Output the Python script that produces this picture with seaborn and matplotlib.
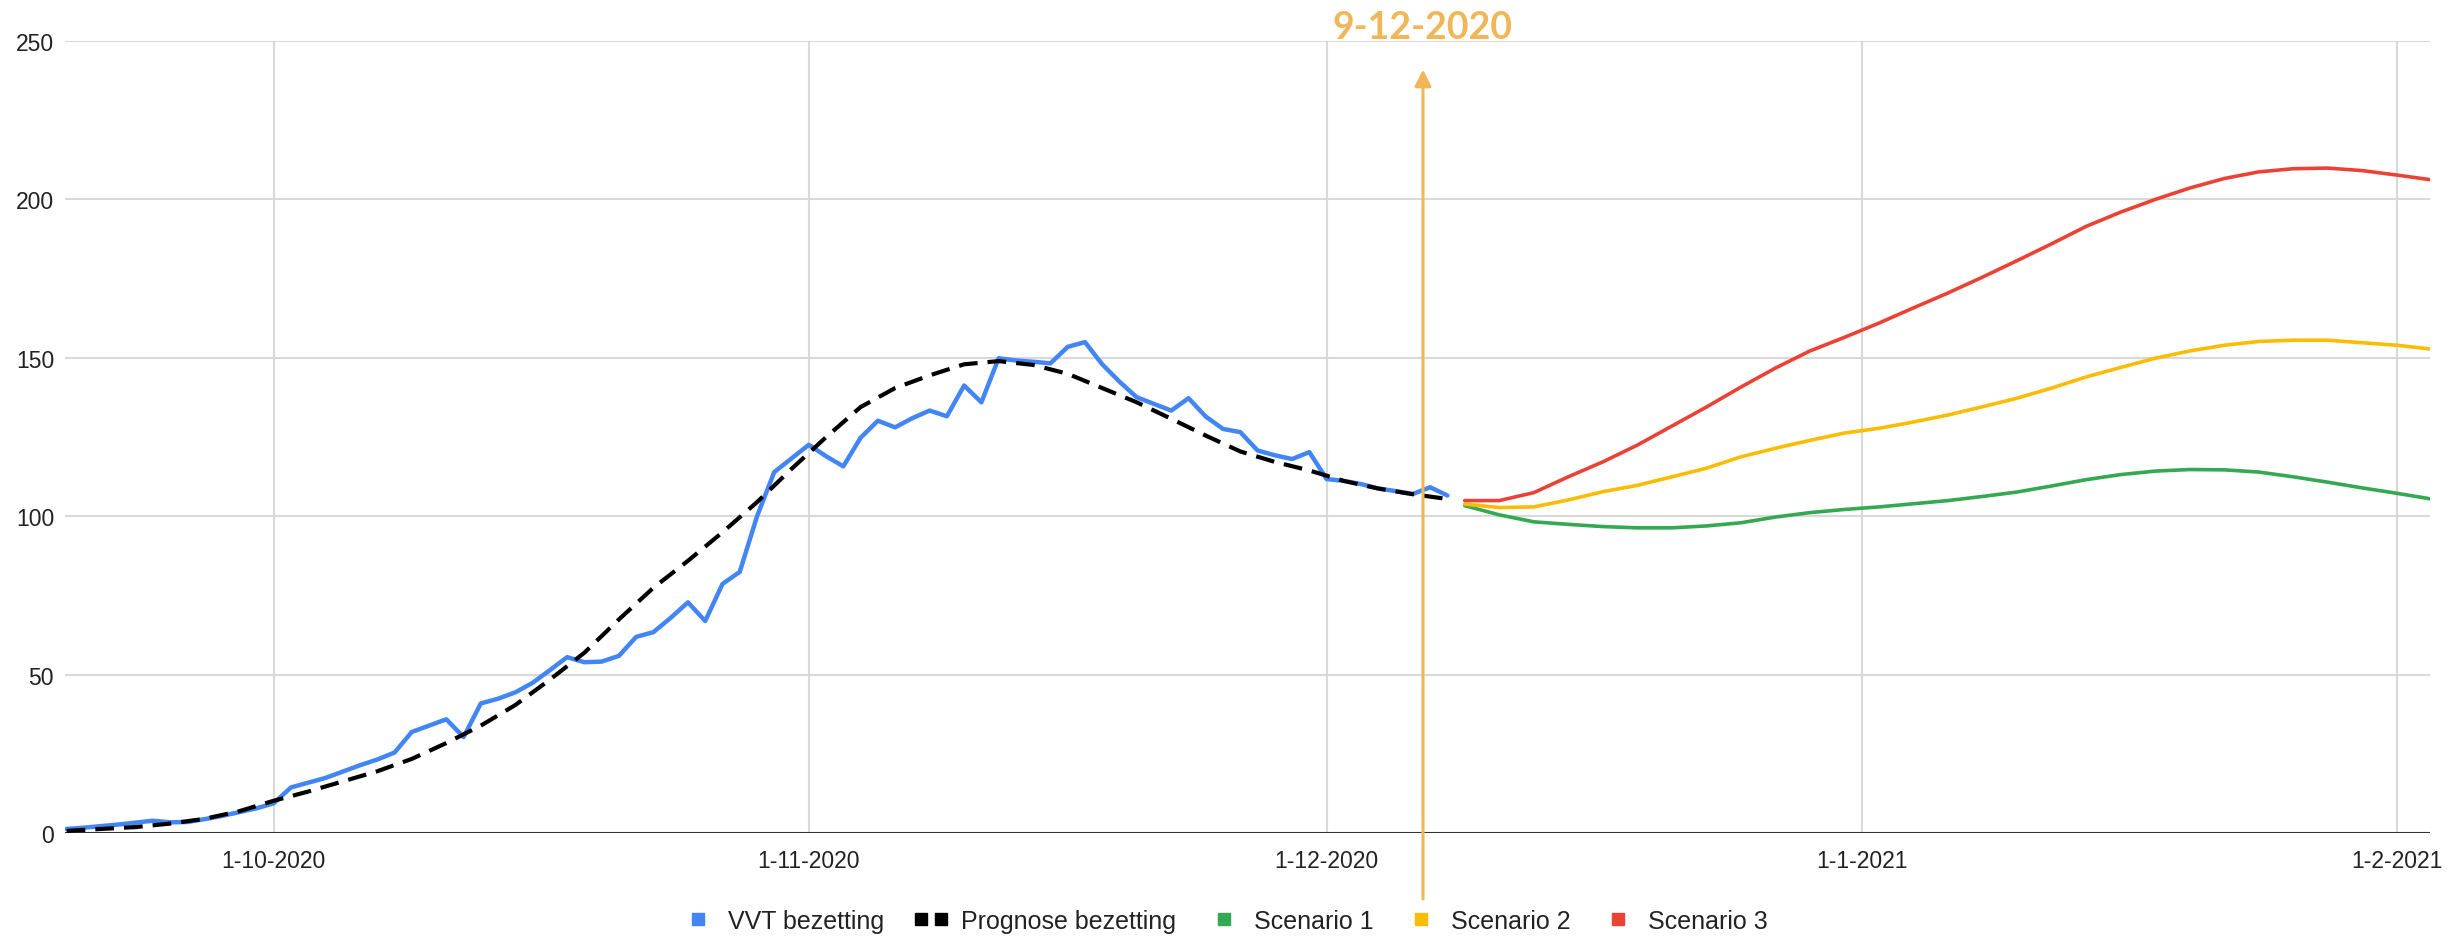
"""
VVT bezetting vs prognose, with three scenarios from 9-12-2020
"""
import pandas as pd
import numpy as np
import matplotlib; matplotlib.use("Agg")
import matplotlib.pyplot as plt
from matplotlib.lines import Line2D
from matplotlib.legend_handler import HandlerTuple
import seaborn as sns

# ---- data ----
VVT_START = "2020-09-19"   # daily values
VVT = [1.4, 1.8, 2.3, 2.8, 3.4, 4.0, 3.5, 3.6, 4.5, 5.5, 6.7, 7.9,
       9.5, 14.5, 16.0, 17.5, 19.5, 21.5, 23.3, 25.5, 32.0, 34.0, 36.0, 30.4,
       41.0, 42.5, 44.5, 47.5, 51.5, 55.6, 54.0, 54.2, 56.0, 62.0, 63.5, 68.0,
       72.9, 67.0, 78.7, 82.5, 100.0, 114.0, 118.3, 122.6, 119.0, 115.8, 124.8, 130.2,
       128.1, 131.0, 133.4, 131.6, 141.3, 136.0, 149.9, 149.2, 148.8, 148.3, 153.5, 155.0,
       148.0, 142.5, 137.6, 135.5, 133.4, 137.3, 131.5, 127.6, 126.6, 120.8, 119.3, 118.1,
       120.3, 111.8, 111.2, 110.2, 108.8, 108.0, 107.1, 109.2, 106.6]

PROG_START = "2020-09-19"  # every 2 days
PROGNOSE = [0.8, 1.4, 2.0, 3.1, 4.6, 7.0, 10.3, 13.2, 16.4, 19.6, 23.5, 28.5,
            34.0, 40.5, 48.5, 57.0, 67.5, 77.5, 86.0, 95.0, 104.5, 115.0, 125.0, 134.5,
            140.5, 144.5, 148.0, 149.0, 147.8, 145.0, 140.5, 136.0, 130.8, 125.5, 120.5, 117.2,
            114.5, 111.2, 108.8, 107.0, 105.5]

SCEN_START = "2020-12-09"  # every 2 days
SCENARIO_1 = [103.4, 100.5, 98.3, 97.5, 96.8, 96.4, 96.4, 97.0, 98.0, 99.8, 101.2, 102.2,
              103.0, 104.0, 105.0, 106.3, 107.7, 109.6, 111.6, 113.2, 114.3, 114.8, 114.7, 114.0,
              112.5, 110.8, 109.0, 107.3, 105.5]
SCENARIO_2 = [103.9, 102.8, 103.0, 105.2, 107.8, 109.8, 112.5, 115.2, 118.8, 121.5, 124.0, 126.3,
              127.8, 129.8, 132.0, 134.6, 137.3, 140.5, 144.0, 147.0, 149.9, 152.2, 154.0, 155.2,
              155.6, 155.6, 154.8, 154.0, 152.8]
SCENARIO_3 = [105.0, 105.0, 107.5, 112.5, 117.2, 122.5, 128.5, 134.5, 140.8, 146.8, 152.2, 156.5,
              161.0, 165.8, 170.5, 175.5, 180.7, 186.0, 191.5, 196.0, 200.0, 203.6, 206.6, 208.7,
              209.7, 209.9, 209.1, 207.7, 206.2]

MONTH_TICKS = ["2020-10-01", "2020-11-01", "2020-12-01", "2021-01-01", "2021-02-01"]
MONTH_LABELS = ["1-10-2020", "1-11-2020", "1-12-2020", "1-1-2021", "1-2-2021"]
MARKER_DATE = "2020-12-06 14:00"
MARKER_LABEL = "9-12-2020"

C_BLUE, C_BLACK = "#4285F4", "#000000"
C_GREEN, C_YELLOW, C_RED = "#34A853", "#FBBC04", "#EA4335"
C_ORANGE = "#F1B657"

sns.set_style("white")
plt.rcParams["font.family"] = ["Liberation Sans", "DejaVu Sans"]

vvt_x = pd.date_range(VVT_START, periods=len(VVT), freq="D")
prog_x = pd.date_range(PROG_START, periods=len(PROGNOSE), freq="2D")
scen_x = pd.date_range(SCEN_START, periods=len(SCENARIO_1), freq="2D")

fig = plt.figure(figsize=(24.48, 9.37), dpi=100)
ax = fig.add_axes([0.0266, 0.1095, 0.9660, 0.8457])

rnd = dict(solid_joinstyle="round", solid_capstyle="round")
sns.lineplot(x=vvt_x, y=VVT, ax=ax, color=C_BLUE, lw=3.2, zorder=3, **rnd)
sns.lineplot(x=prog_x, y=PROGNOSE, ax=ax, color=C_BLACK, lw=3.0, zorder=4)
ax.lines[-1].set_dashes((4.5, 2.4))
sns.lineplot(x=scen_x, y=SCENARIO_1, ax=ax, color=C_GREEN, lw=2.6, zorder=3, **rnd)
sns.lineplot(x=scen_x, y=SCENARIO_2, ax=ax, color=C_YELLOW, lw=2.6, zorder=3, **rnd)
sns.lineplot(x=scen_x, y=SCENARIO_3, ax=ax, color=C_RED, lw=2.6, zorder=3, **rnd)

# axes
ax.set_ylim(0, 250)
ax.set_xlim(pd.Timestamp("2020-09-18 22:00"), pd.Timestamp("2021-02-02 22:00"))
ax.set_yticks(np.arange(0, 251, 50))
ax.set_xticks(pd.to_datetime(MONTH_TICKS))
ax.set_xticklabels(MONTH_LABELS)
ax.tick_params(axis="both", length=0, labelsize=16.5, labelcolor="#222222")
ax.tick_params(axis="x", pad=11)
ax.tick_params(axis="y", pad=8)
ax.grid(True, color="#d9d9d9", lw=1.5)
ax.set_axisbelow(True)
for s in ax.spines.values():
    s.set_visible(False)
ax.axhline(0, color="#333333", lw=2.2, zorder=2)
ax.set_xlabel(""); ax.set_ylabel("")

# marker arrow + label
md = pd.Timestamp(MARKER_DATE)
ax.annotate("", xy=(md, 241), xytext=(md, -20.7), annotation_clip=False,
            arrowprops=dict(arrowstyle="-|>", color=C_ORANGE, lw=2.2,
                            mutation_scale=25, shrinkA=0, shrinkB=0), zorder=6)
ax.text(md, 254.5, MARKER_LABEL, ha="center", va="center", fontsize=27,
        fontweight="bold", color=C_ORANGE, family=["Lato", "DejaVu Sans"], clip_on=False)

# legend
sq = dict(lw=0, marker="s", markersize=9)
handles = [Line2D([], [], color=C_BLUE, **sq),
           (Line2D([], [], color=C_BLACK, **sq), Line2D([], [], color=C_BLACK, **sq)),
           Line2D([], [], color=C_GREEN, **sq),
           Line2D([], [], color=C_YELLOW, **sq),
           Line2D([], [], color=C_RED, **sq)]
labels = ["VVT bezetting", "Prognose bezetting", "Scenario 1", "Scenario 2", "Scenario 3"]
fig.legend(handles, labels, loc="center", bbox_to_anchor=(0.501, 0.016), ncol=5,
           frameon=False, fontsize=18, labelcolor="#222222",
           handler_map={tuple: HandlerTuple(ndivide=None, pad=0.6)},
           handlelength=1.0, handletextpad=0.7, columnspacing=1.4)

plt.savefig("out.png", dpi=100)
plt.close("all")
